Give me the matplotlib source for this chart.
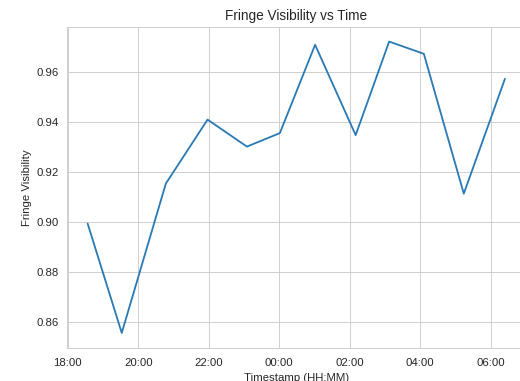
import matplotlib
matplotlib.use("Agg")
import matplotlib.pyplot as plt
import matplotlib.dates as mdates
import seaborn as sns
import pandas as pd

timestamps = ["2024-01-01 18:34", "2024-01-01 19:32", "2024-01-01 20:47", "2024-01-01 21:58",
              "2024-01-01 23:05", "2024-01-02 00:01", "2024-01-02 01:01", "2024-01-02 02:10",
              "2024-01-02 03:07", "2024-01-02 04:06", "2024-01-02 05:14", "2024-01-02 06:24"]
visibility = [0.8995, 0.8558, 0.9155, 0.9411, 0.9303, 0.9357,
              0.9710, 0.9349, 0.9723, 0.9674, 0.9115, 0.9574]

times = pd.to_datetime(timestamps)

sns.set_style("whitegrid")
plt.rcParams['font.family'] = ['Liberation Sans', 'DejaVu Sans']

DPI = 82
fig = plt.figure(figsize=(520 / DPI, 381 / DPI), dpi=DPI)
# axes run slightly past the right edge, like the reference crop
ax = fig.add_axes([66.8 / 520, 33.5 / 381, 459 / 520, 320.5 / 381])

ax.plot(times, visibility, color="#2a7ab5", linewidth=1.6)

ax.xaxis.set_major_locator(mdates.HourLocator(interval=2))
ax.xaxis.set_major_formatter(mdates.DateFormatter('%H:%M'))
ax.tick_params(axis='x', pad=5.8)

ax.set_title("Fringe Visibility vs Time")
ax.set_xlabel("Timestamp (HH:MM)", labelpad=4.5)
ax.set_ylabel("Fringe Visibility")

fig.savefig("out.png", dpi=DPI)
